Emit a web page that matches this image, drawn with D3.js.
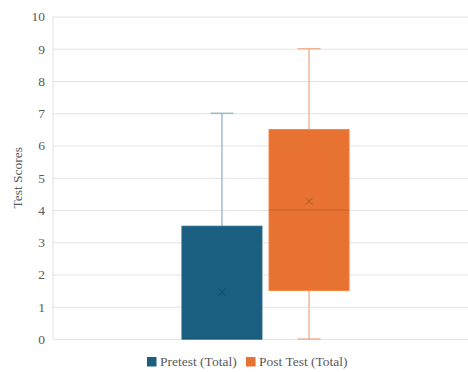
<!DOCTYPE html>
<html>
<head>
<meta charset="utf-8">
<script src="https://cdn.jsdelivr.net/npm/d3@7"></script>
<style>
  html, body { margin: 0; padding: 0; background: #fff; }
  svg { display: block; }
</style>
</head>
<body>
<svg id="chart" width="468" height="372"></svg>
<script>
// Box-plot summaries for each series
const seriesNames = ["Pretest (Total)", "Post Test (Total)"];
const seriesColors = ["#1a5e80", "#e87232"];
const whiskerColors = ["#93b3c6", "#efac8c"];
const minValues = [0, 0];
const q1Values = [0, 1.5];
const medianValues = [0, 4];
const q3Values = [3.5, 6.5];
const maxValues = [7, 9];
const meanValues = [1.45, 4.27];
const yTicks = [0, 1, 2, 3, 4, 5, 6, 7, 8, 9, 10];

const svg = d3.select("#chart");
const margin = { left: 53, top: 16.5, bottom: 33 };
const plotRight = 478;
const height = 372;
const serif = "Liberation Serif, Tinos, Times New Roman, DejaVu Serif, serif";
const textColor = "#595959";

const y = d3.scaleLinear().domain([0, 10]).range([height - margin.bottom, margin.top]);
const xCat = d3.scaleBand().domain(["all"]).range([margin.left, plotRight]);
const xSeries = d3.scaleBand().domain(seriesNames)
  .range([xCat("all"), xCat("all") + xCat.bandwidth()])
  .paddingInner(0.08).paddingOuter(1.48);

// Gridlines and tick labels
const yAxis = d3.axisLeft(y).tickValues(yTicks).tickSize(-(plotRight - margin.left)).tickPadding(8);
const gy = svg.append("g").attr("transform", `translate(${margin.left},0)`).call(yAxis);
gy.select(".domain").remove();
gy.selectAll(".tick line").attr("stroke", "#e3e3e3").attr("stroke-width", 1);
gy.selectAll(".tick text")
  .style("font-family", serif).style("font-size", "13.5px").style("fill", textColor);

// Vertical axis line
svg.append("line")
  .attr("x1", margin.left).attr("x2", margin.left)
  .attr("y1", y(10)).attr("y2", y(0))
  .attr("stroke", "#e3e3e3");

// Axis title
svg.append("text")
  .attr("transform", `translate(22,${(y(0) + y(10)) / 2}) rotate(-90)`)
  .attr("text-anchor", "middle")
  .style("font-family", serif).style("font-size", "13.5px").style("fill", textColor)
  .text("Test Scores");

const capHalf = 11.5;
seriesNames.forEach((name, i) => {
  const x0 = xSeries(name);
  const w = xSeries.bandwidth();
  const cx = x0 + w / 2;
  const g = svg.append("g");

  // whiskers
  g.append("line").attr("x1", cx).attr("x2", cx)
    .attr("y1", y(q3Values[i])).attr("y2", y(maxValues[i]))
    .attr("stroke", whiskerColors[i]).attr("stroke-width", 1.3);
  g.append("line").attr("x1", cx - capHalf).attr("x2", cx + capHalf)
    .attr("y1", y(maxValues[i])).attr("y2", y(maxValues[i]))
    .attr("stroke", whiskerColors[i]).attr("stroke-width", 1.3);
  if (minValues[i] < q1Values[i]) {
    g.append("line").attr("x1", cx).attr("x2", cx)
      .attr("y1", y(minValues[i])).attr("y2", y(q1Values[i]))
      .attr("stroke", whiskerColors[i]).attr("stroke-width", 1.3);
    g.append("line").attr("x1", cx - capHalf).attr("x2", cx + capHalf)
      .attr("y1", y(minValues[i])).attr("y2", y(minValues[i]))
      .attr("stroke", whiskerColors[i]).attr("stroke-width", 1.3);
  }

  // box
  g.append("rect")
    .attr("x", x0).attr("width", w)
    .attr("y", y(q3Values[i])).attr("height", y(q1Values[i]) - y(q3Values[i]))
    .attr("fill", seriesColors[i])
    .attr("stroke", d3.color(seriesColors[i]).brighter(0.3)).attr("stroke-width", 0.8);

  // median
  g.append("line").attr("x1", x0).attr("x2", x0 + w)
    .attr("y1", y(medianValues[i])).attr("y2", y(medianValues[i]))
    .attr("stroke", d3.color(seriesColors[i]).darker(0.6)).attr("stroke-width", 0.8);

  // mean marker
  const my = y(meanValues[i]);
  const s = 3.5;
  g.append("path")
    .attr("d", `M${cx - s},${my - s}L${cx + s},${my + s}M${cx - s},${my + s}L${cx + s},${my - s}`)
    .attr("stroke", d3.color(seriesColors[i]).darker(0.8)).attr("stroke-width", 1);
});

// Legend
const legend = svg.append("g").attr("transform", "translate(147,366)");
const legendX = [0, 99];
seriesNames.forEach((name, i) => {
  const lg = legend.append("g").attr("transform", `translate(${legendX[i]},0)`);
  lg.append("rect").attr("x", 0).attr("y", -9).attr("width", 9.5).attr("height", 9.5).attr("fill", seriesColors[i]);
  lg.append("text").attr("x", 13).attr("y", 0)
    .style("font-family", serif).style("font-size", "13.5px").style("fill", textColor)
    .text(name);
});
</script>
</body>
</html>
